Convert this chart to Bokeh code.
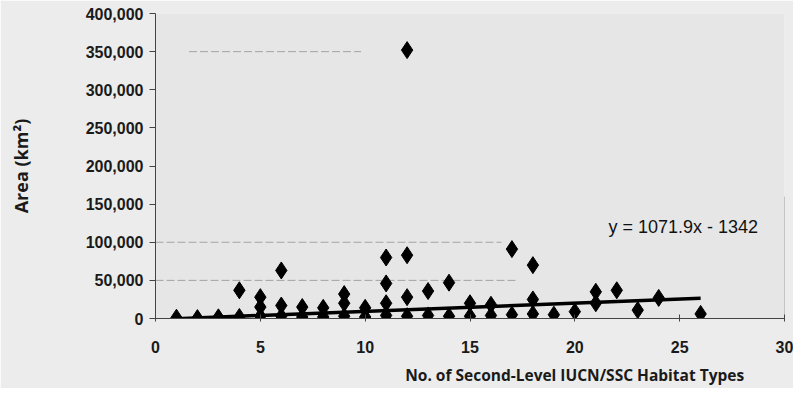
from bokeh.plotting import figure
from bokeh.models import ColumnDataSource, Label, NumeralTickFormatter, FixedTicker
from bokeh.embed import file_html
from bokeh.resources import INLINE

# Habitat types (x) and area in km2 (y)
habitat_types = [1, 2, 3, 4, 4,
                 5, 5, 5, 6, 6, 6,
                 7, 7, 8, 8, 9, 9, 9,
                 10, 10, 11, 11, 11, 11,
                 12, 12, 12, 12, 13, 13,
                 14, 14, 15, 15, 16, 16,
                 17, 17, 18, 18, 18,
                 19, 20, 21, 21, 22, 23, 24, 26]
area_km2 = [1000, 500, 1500, 2000, 37000,
            3000, 15000, 28000, 3000, 17000, 63000,
            2000, 15000, 2000, 14000, 3000, 20000, 32000,
            2000, 14000, 4000, 20000, 46000, 80000,
            3000, 28000, 83000, 352000, 4000, 36000,
            3000, 47000, 3000, 20000, 4000, 18000,
            5000, 91000, 6000, 25000, 70000,
            5000, 9000, 20000, 35000, 37000, 11000, 27000, 6000]

trend_slope = 1071.9
trend_intercept = -1342
trend_x = [min(habitat_types), max(habitat_types)]
trend_y = [trend_slope * v + trend_intercept for v in trend_x]
equation_text = "y = 1071.9x - 1342"

x_ticks = [0, 5, 10, 15, 20, 25, 30]
y_ticks = [0, 50000, 100000, 150000, 200000, 250000, 300000, 350000, 400000]
x_title = "No. of Second-Level IUCN/SSC Habitat Types"
y_title = "Area (km²)"

# faint (scanned) grid fragments
grid_y = [350000, 100000, 50000]
grid_x0 = [1.6, 0, 0]
grid_x1 = [9.8, 16.5, 17.2]

p = figure(width=793, height=388, x_range=(0, 30), y_range=(0, 400000),
           output_backend="svg", toolbar_location=None,
           min_border_left=155, min_border_right=9, min_border_top=13,
           min_border_bottom=69)
p.background_fill_color = "#e6e6e6"
p.border_fill_color = "#ececec"
p.outline_line_color = None
p.xgrid.visible = False
p.ygrid.visible = False

p.segment(x0=grid_x0, x1=grid_x1, y0=grid_y, y1=grid_y,
          line_color="#888888", line_width=1, line_dash="8 3", line_alpha=0.7)
p.segment(x0=[30], x1=[30], y0=[0], y1=[160000], line_color="#999999", line_width=1)

p.line(trend_x, trend_y, line_color="black", line_width=3.5)

src = ColumnDataSource(dict(x=habitat_types, y=area_km2))
p.scatter("x", "y", source=src, marker="diamond", size=17,
          fill_color="black", line_color="black")

p.add_layout(Label(x=21.6, y=120000, text=equation_text, text_font="Liberation Sans",
                   text_font_size="18px", text_color="#111111", text_baseline="middle"))

for ax in (p.xaxis[0], p.yaxis[0]):
    ax.axis_line_color = "#444444"
    ax.major_tick_line_color = "#444444"
    ax.minor_tick_line_color = None
    ax.major_label_text_font = "Liberation Sans"
    ax.major_label_text_font_style = "bold"
    ax.major_label_text_font_size = "16px"
    ax.major_label_text_color = "#1a1a1a"
    ax.axis_label_text_font = "Open Sans"
    ax.axis_label_text_font_style = "bold"
    ax.axis_label_text_color = "#1a1a1a"

p.xaxis.ticker = FixedTicker(ticks=x_ticks)
p.yaxis.ticker = FixedTicker(ticks=y_ticks)
p.yaxis.formatter = NumeralTickFormatter(format="0,0")
p.xaxis.major_tick_in = 4
p.xaxis.major_tick_out = 3
p.yaxis.major_tick_in = 0
p.yaxis.major_tick_out = 6
p.xaxis.major_label_standoff = 19
p.yaxis.major_label_standoff = 6
# title sits right of centre in the reference: shift with leading no-break spaces
p.xaxis.axis_label = "\u00a0" * 52 + x_title
p.xaxis.axis_label_text_font_size = "15.5px"
p.xaxis.axis_label_standoff = 8
p.yaxis.axis_label = y_title
p.yaxis.axis_label_text_font_size = "18px"
p.yaxis.axis_label_standoff = 50

open("out.html", "w").write(file_html(p, INLINE))
